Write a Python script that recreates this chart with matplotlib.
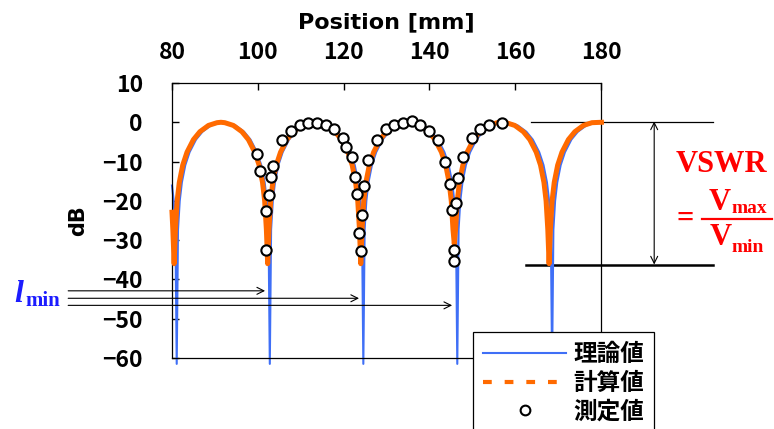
import matplotlib
matplotlib.use('Agg')
import matplotlib.pyplot as plt
from matplotlib.lines import Line2D
from matplotlib.transforms import Affine2D

# ---------------- data ----------------
theory_x = [80.0, 80.4, 80.8, 81.1, 81.4, 81.8, 82.3, 83.1, 84.1, 85.6, 87.1, 89.1, 91.1, 92.0,
            92.8, 94.8, 96.8, 98.3, 99.8, 100.8, 101.6, 102.1, 102.5, 102.8, 103.1, 103.5, 104.0,
            104.8, 105.8, 107.3, 108.8, 110.8, 112.8, 113.7, 114.6, 116.6, 118.6, 120.1, 121.6,
            122.6, 123.4, 123.9, 124.3, 124.6, 124.9, 125.3, 125.8, 126.6, 127.6, 129.1, 130.6,
            132.6, 134.6, 135.55, 136.5, 138.5, 140.5, 142.0, 143.5, 144.5, 145.3, 145.8, 146.2,
            146.5, 146.8, 147.2, 147.7, 148.5, 149.5, 151.0, 152.5, 154.5, 156.5, 157.55, 158.6,
            160.6, 162.6, 164.1, 165.6, 166.6, 167.4, 167.9, 168.3, 168.6, 168.9, 169.3, 169.8,
            170.6, 171.6, 173.1, 174.6, 176.6, 178.6, 180.0]
theory_db = [-16.1, -20.0, -27.3, -61.5, -27.3, -20.0, -15.3, -10.9, -7.6, -4.4, -2.4, -0.8, -0.1, 0.0,
             -0.1, -0.8, -2.4, -4.4, -7.6, -10.9, -15.3, -20.0, -27.3, -61.5, -27.3, -20.0, -15.3,
             -10.9, -7.6, -4.4, -2.4, -0.8, -0.1, 0.0, -0.1, -0.8, -2.4, -4.4, -7.6,
             -10.9, -15.3, -20.0, -27.3, -61.5, -27.3, -20.0, -15.3, -10.9, -7.6, -4.4, -2.4,
             -0.8, -0.1, 0.0, -0.1, -0.8, -2.4, -4.4, -7.6, -10.9, -15.3, -20.0, -27.3,
             -61.5, -27.3, -20.0, -15.3, -10.9, -7.6, -4.4, -2.4, -0.8, -0.1, 0.0, -0.1,
             -0.8, -2.4, -4.4, -7.6, -10.9, -15.3, -20.0, -27.3, -61.5, -27.3, -20.0, -15.3,
             -10.9, -7.6, -4.4, -2.4, -0.8, -0.1, 0.0]

calc_x = [80.0, 80.2, 80.5, 80.8, 81.2, 81.7, 82.5, 83.5, 85.0, 86.5, 88.5, 90.5, 91.4,
          92.3, 94.3, 96.3, 97.8, 99.3, 100.3, 101.1, 101.6, 102.0, 102.3, 102.6, 103.0, 103.5,
          104.3, 105.3, 106.8, 108.3, 110.3, 112.3, 113.15, 114.0, 116.0, 118.0, 119.5, 121.0,
          122.0, 122.8, 123.3, 123.7, 124.0, 124.3, 124.7, 125.2, 126.0, 127.0, 128.5, 130.0,
          132.0, 134.0, 134.9, 135.8, 137.8, 139.8, 141.3, 142.8, 143.8, 144.6, 145.1, 145.5,
          145.8, 146.1, 146.5, 147.0, 147.8, 148.8, 150.3, 151.8, 153.8, 155.8, 156.85, 157.9,
          159.9, 161.9, 163.4, 164.9, 165.9, 166.7, 167.2, 167.6, 167.9, 168.2, 168.6, 169.1,
          169.9, 170.9, 172.4, 173.9, 175.9, 177.9, 180.1]
calc_db = [-22.9, -27.3, -36.0, -27.3, -20.0, -15.3, -10.9, -7.6, -4.4, -2.4, -0.8, -0.1, 0.0,
           -0.1, -0.8, -2.4, -4.4, -7.6, -10.9, -15.3, -20.0, -27.3, -36.0, -27.3, -20.0, -15.3,
           -10.9, -7.6, -4.4, -2.4, -0.8, -0.1, 0.0, -0.1, -0.8, -2.4, -4.4, -7.6,
           -10.9, -15.3, -20.0, -27.3, -36.0, -27.3, -20.0, -15.3, -10.9, -7.6, -4.4, -2.4,
           -0.8, -0.1, 0.0, -0.1, -0.8, -2.4, -4.4, -7.6, -10.9, -15.3, -20.0, -27.3,
           -31.0, -27.3, -20.0, -15.3, -10.9, -7.6, -4.4, -2.4, -0.8, -0.1, 0.0, -0.1,
           -0.8, -2.4, -4.4, -7.6, -10.9, -15.3, -20.0, -27.3, -36.0, -27.3, -20.0, -15.3,
           -10.9, -7.6, -4.4, -2.4, -0.8, -0.1, 0.0]

meas_x = [99.7, 100.5, 101.8, 101.8, 102.7, 103.1, 103.5, 105.6, 107.7, 109.8, 111.7, 113.8,
          115.8, 117.7, 119.8, 120.5, 121.9, 122.7, 123.2, 123.7, 124.1, 124.4, 124.8, 125.8,
          127.9, 129.9, 131.7, 133.8, 135.9, 137.7, 139.8, 142.1, 143.6, 144.8, 145.3, 145.7,
          145.7, 146.2, 146.7, 147.9, 150.0, 151.8, 153.9, 156.9]
meas_db = [-8.0, -12.4, -22.7, -32.5, -18.6, -13.8, -11.0, -4.6, -2.2, -0.7, -0.2, -0.2,
           -0.7, -1.7, -4.1, -6.2, -8.9, -13.8, -18.3, -28.2, -32.8, -23.5, -16.3, -9.5,
           -4.5, -1.7, -0.6, -0.2, 0.4, -0.7, -2.1, -4.5, -10.0, -15.8, -22.3, -32.4,
           -35.3, -20.6, -14.2, -8.9, -4.1, -1.7, -0.7, -0.3]

x_ticks = [80, 100, 120, 140, 160, 180]
y_ticks = [10, 0, -10, -20, -30, -40, -50, -60]
legend_labels = ['理論値', '計算値', '測定値']
x_label = 'Position [mm]'
y_label = 'dB'

# ---------------- styling ----------------
plt.rcParams['font.family'] = ['Noto Sans CJK JP', 'DejaVu Sans']
plt.rcParams['font.weight'] = 'bold'
plt.rcParams['axes.unicode_minus'] = True

BLUE = '#3f6ff6'
ORANGE = '#ff6a00'
RED = '#ff0000'
LBLUE = '#1c1cff'

W, H = 774, 429
fig = plt.figure(figsize=(W / 100, H / 100), dpi=100)
ax = fig.add_axes([172 / W, 1 - 358 / H, (601 - 172) / W, (358 - 83) / H])
PX = Affine2D().scale(1 / W, -1 / H).translate(0, 1) + fig.transFigure

ax.plot(theory_x, theory_db, color=BLUE, lw=1.5, clip_on=False, zorder=2)
ax.plot(calc_x, calc_db, color=ORANGE, lw=3.6, clip_on=False, zorder=3)
ax.plot(meas_x, meas_db, ls='none', marker='o', ms=7.4, mfc='white', mec='black',
        mew=1.5, clip_on=False, zorder=4)

ax.set_xlim(80, 180)
ax.set_ylim(-60, 10)
ax.set_xticks(x_ticks)
ax.set_yticks(y_ticks)
ax.xaxis.tick_top()
ax.xaxis.set_label_position('top')
ax.tick_params(axis='x', direction='in', length=5, width=1, pad=14, labelsize=16.5)
ax.tick_params(axis='y', direction='in', length=5, width=1, pad=21, labelsize=16.5)
for s in ax.spines.values():
    s.set_linewidth(0.9)
ax.set_xlabel(x_label, fontsize=16, family='DejaVu Sans', fontweight='bold', labelpad=9)
ax.set_ylabel(y_label, fontsize=15, family='DejaVu Sans', fontweight='bold', labelpad=10)

# ---------------- annotations ----------------
ax.plot([163.7, 206.1], [0.2, 0.2], color='black', lw=0.9, clip_on=False, zorder=1)
ax.plot([162.5, 206.1], [-36.2, -36.2], color='black', lw=1.8, clip_on=False, zorder=1)
ax.annotate('', xy=(192.4, 0.2), xytext=(192.4, -36.2), xycoords='data',
            arrowprops=dict(arrowstyle='<->,head_length=0.5,head_width=0.25', lw=0.8,
                            color='black', shrinkA=0, shrinkB=0, mutation_scale=10),
            annotation_clip=False)

for y_lvl, x_end in [(-42.9, 101.7), (-44.8, 123.6), (-46.6, 145.3)]:
    ax.annotate('', xy=(x_end, y_lvl), xytext=(55.8, y_lvl), xycoords='data',
                arrowprops=dict(arrowstyle='->,head_length=0.5,head_width=0.25', lw=0.8,
                                color='black', shrinkA=0, shrinkB=0, mutation_scale=10),
                annotation_clip=False)

serif = 'Liberation Serif'
fig.text(676, 171.5, 'VSWR', transform=PX, family=serif, fontweight='bold', fontsize=22,
         color=RED, ha='left', va='baseline')
fig.text(676, 227, '=', transform=PX, family=serif, fontweight='bold', fontsize=22,
         color=RED, ha='left', va='baseline')
fig.add_artist(Line2D([701.7, 771.7], [219, 219], transform=PX, color=RED, lw=1.6))
fig.text(709, 210, 'V', transform=PX, family=serif, fontweight='bold', fontsize=22,
         color=RED, ha='left', va='baseline')
fig.text(731, 213, 'max', transform=PX, family=serif, fontweight='bold', fontsize=14,
         color=RED, ha='left', va='baseline')
fig.text(710, 245, 'V', transform=PX, family=serif, fontweight='bold', fontsize=22,
         color=RED, ha='left', va='baseline')
fig.text(731, 251.5, 'min', transform=PX, family=serif, fontweight='bold', fontsize=14,
         color=RED, ha='left', va='baseline')

fig.text(14, 301.5, 'l', transform=PX, family=serif, fontweight='bold', style='italic',
         fontsize=23, color=LBLUE, ha='left', va='baseline')
fig.text(25, 306.5, 'min', transform=PX, family=serif, fontweight='bold', fontsize=15,
         color=LBLUE, ha='left', va='baseline')

# ---------------- legend ----------------
handles = [Line2D([], [], color=BLUE, lw=1.5),
           Line2D([], [], color=ORANGE, lw=3.0, dashes=(2.1, 3.1)),
           Line2D([], [], ls='none', marker='o', ms=7.0, mfc='white', mec='black', mew=1.5)]
leg = ax.legend(handles, legend_labels, loc='upper left',
                bbox_to_anchor=(473.3 / W, 1 - 332.3 / H), bbox_transform=fig.transFigure,
                borderaxespad=0, handlelength=3.5, handletextpad=0.3,
                borderpad=0.42, labelspacing=0.2, fancybox=False, framealpha=1,
                edgecolor='black', prop={'family': ['Noto Sans CJK JP'], 'weight': 'bold', 'size': 17})
leg.get_frame().set_linewidth(0.9)
leg.set_zorder(10)

fig.savefig('out.png', dpi=100)
